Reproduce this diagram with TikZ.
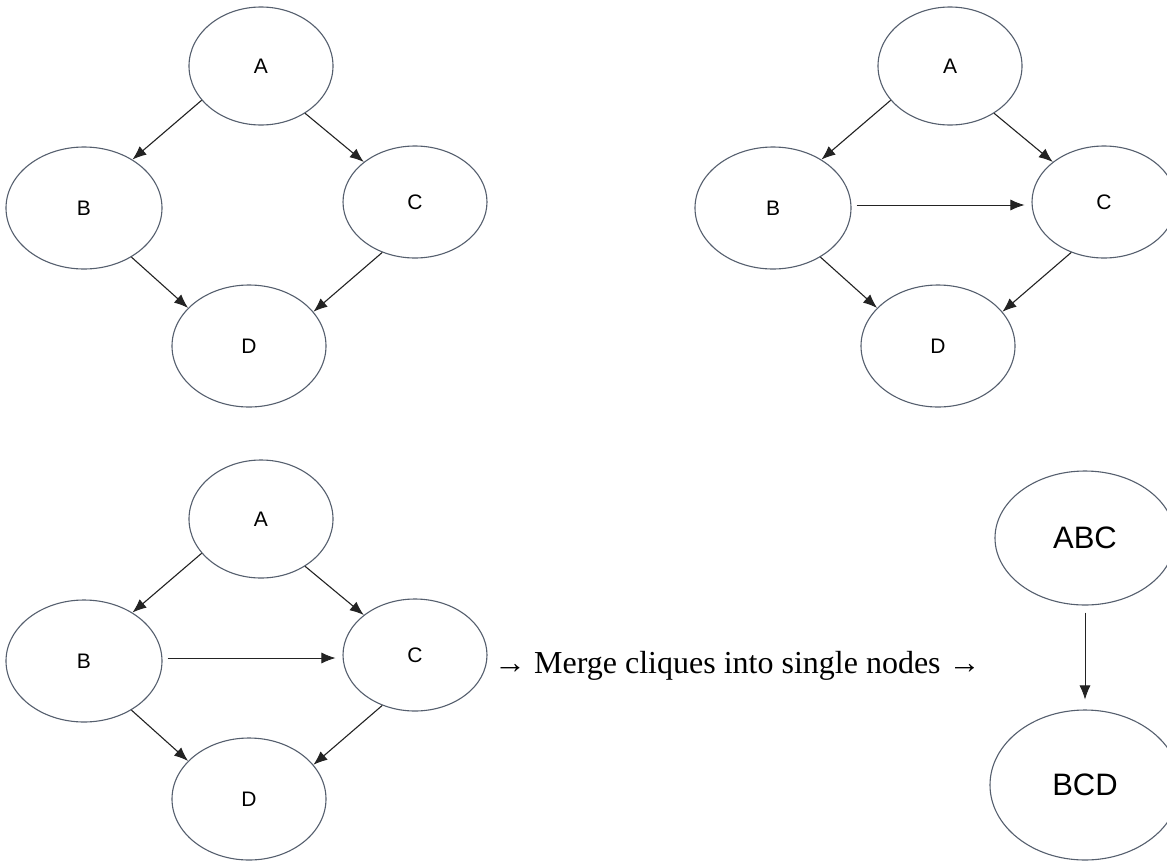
\documentclass[tikz,border=0pt]{standalone}
\usepackage{fontspec}
\setmainfont{Liberation Serif}
\setsansfont{Liberation Sans}
\usetikzlibrary{shapes.geometric,arrows.meta}
\definecolor{ellcol}{RGB}{85,95,110}
\definecolor{arrcol}{RGB}{35,35,35}
\tikzset{
  ell/.style n args={2}{ellipse, draw=ellcol, line width=1.1pt, inner sep=0pt,
    minimum width=#1, minimum height=#2, font=\sffamily\fontsize{21}{24}\selectfont},
  bigell/.style n args={2}{ell={#1}{#2}, font=\sffamily\fontsize{31}{34}\selectfont},
  edge/.style={draw=arrcol, line width=1.1pt, -{Latex[length=14pt,width=11pt]}},
  hedge/.style={draw=arrcol, line width=0.8pt, -{Latex[length=14pt,width=11pt]}},
}
\begin{document}
\begin{tikzpicture}[x=1pt,y=-1pt]
\clip (0,0) rectangle (1167,860);
\fill[white] (0,0) rectangle (1167,860);
% ---------- top-left graph ----------
\node[ell={144pt}{118pt}] (tlA) at (261,66) {A};
\node[ell={156pt}{122pt}] (tlB) at (84,208) {B};
\node[ell={144pt}{112pt}] (tlC) at (415,202) {C};
\node[ell={154pt}{122pt}] (tlD) at (249,346) {D};
\draw[edge] (tlA.210) -- (tlB.45);
\draw[edge] (tlA.313) -- (tlC.142);
\draw[edge] (tlB.314) -- (tlD.148);
\draw[edge] (tlC.237) -- (tlD.28);
% ---------- top-right graph ----------
\begin{scope}[shift={(689,0)}]
\node[ell={144pt}{118pt}] (trA) at (261,66) {A};
\node[ell={156pt}{122pt}] (trB) at (84,208) {B};
\node[ell={144pt}{112pt}] (trC) at (415,202) {C};
\node[ell={154pt}{122pt}] (trD) at (249,346) {D};
\end{scope}
\draw[edge] (trA.210) -- (trB.45);
\draw[edge] (trA.313) -- (trC.142);
\draw[edge] (trB.314) -- (trD.148);
\draw[edge] (trC.237) -- (trD.28);
\draw[hedge] ([xshift=5pt,yshift=3pt]trB.east) -- ([xshift=-7pt,yshift=3pt]trB.east -| trC.west);
% ---------- bottom-left graph ----------
\begin{scope}[shift={(0,453)}]
\node[ell={144pt}{118pt}] (blA) at (261,66) {A};
\node[ell={156pt}{122pt}] (blB) at (84,208) {B};
\node[ell={144pt}{112pt}] (blC) at (415,202) {C};
\node[ell={154pt}{122pt}] (blD) at (249,346) {D};
\end{scope}
\draw[edge] (blA.210) -- (blB.45);
\draw[edge] (blA.313) -- (blC.142);
\draw[edge] (blB.314) -- (blD.148);
\draw[edge] (blC.237) -- (blD.28);
\draw[hedge] ([xshift=5pt,yshift=3pt]blB.east) -- ([xshift=-7pt,yshift=3pt]blB.east -| blC.west);
% ---------- caption ----------
\node[anchor=base west, inner sep=0pt, font=\rmfamily\fontsize{32}{36}\selectfont] (cap) at (494,673) {→ Merge cliques into single nodes →};
% ---------- merged graph ----------
\node[bigell={180pt}{134pt}] (ABC) at (1085,538) {ABC};
\node[bigell={190pt}{150pt}] (BCD) at (1085,785) {BCD};
\draw[hedge, shorten <=7pt, shorten >=10pt] (ABC) -- (BCD);
\end{tikzpicture}
\end{document}
